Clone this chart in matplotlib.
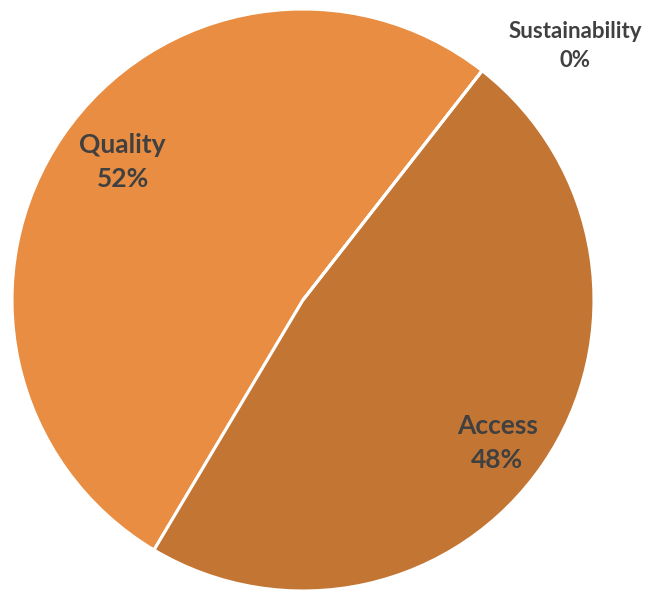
import numpy as np
import matplotlib
matplotlib.use('Agg')
from matplotlib import pyplot as plt

categories = ['Quality', 'Access', 'Sustainability']
values = [52, 48, 0]
colors = ['#E88D42', '#C37634', '#A5A5A5']
label_dist = [0.78, 0.83, 1.28]
label_shift = [-3, -2, -9]  # degrees, nudges from wedge mid angle
label_size = [19, 19, 16]

plt.rcParams['font.family'] = ['Lato', 'DejaVu Sans']

fig = plt.figure(figsize=(6.62, 5.97), dpi=100)
ax = fig.add_axes([12 / 662, 6 / 597, 582 / 662, 582 / 597])
wedges, _ = ax.pie(values, colors=colors, startangle=52, counterclock=True,
                   wedgeprops=dict(edgecolor='white', linewidth=2.2))
ax.set_aspect('equal')
ax.set_xlim(-1, 1)
ax.set_ylim(-1, 1)

total = sum(values)
for w, name, v, d, s, fs in zip(wedges, categories, values, label_dist, label_shift, label_size):
  ang = np.deg2rad((w.theta1 + w.theta2) / 2 + s)
  ax.text(d * np.cos(ang), d * np.sin(ang), '%s\n%d%%' % (name, round(100 * v / total)),
          ha='center', va='center', fontsize=fs, fontweight='bold', color='#404040',
          linespacing=1.5)

fig.savefig('out.png', dpi=100)
